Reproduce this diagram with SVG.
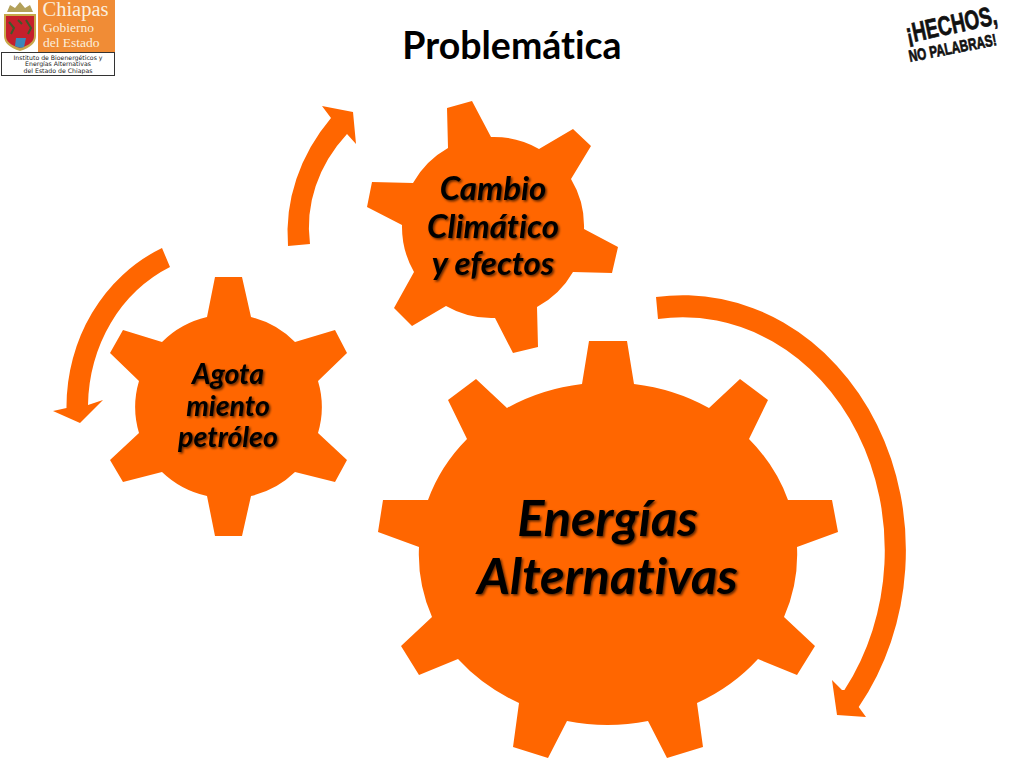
<svg xmlns="http://www.w3.org/2000/svg" width="1024" height="768" viewBox="0 0 1024 768">
<defs>
<style>
text{font-variant-ligatures:none}
.o{fill:#ff6600}
.g{font-family:Lato,"Liberation Sans",sans-serif;font-weight:700;font-style:italic;fill:#000;text-anchor:middle;filter:url(#sh)}
.s{font-family:"Liberation Serif",serif;fill:#fbeedd}
.i{font-family:"DejaVu Sans",sans-serif;font-size:6.2px;fill:#222;text-anchor:middle}
.h{font-family:"Liberation Sans",sans-serif;font-weight:700;fill:#111;stroke:#111;stroke-width:.7}
</style>
<filter id="sh" x="-10%" y="-20%" width="120%" height="150%"><feDropShadow dx="1.5" dy="1.5" stdDeviation="1.1" flood-color="#000" flood-opacity=".65"/></filter>
</defs>
<rect width="1024" height="768" fill="#fff"/>
<g id="logo-chiapas">
<rect x="38" y="0" width="77" height="52" fill="#f08c36"/>
<path d="M4 14H36V36Q36 46 20 51Q4 46 4 36Z" fill="#c8a84a"/>
<path d="M6 16H34V36Q34 44 20 48Q6 44 6 36Z" fill="#c5202c"/>
<path d="M16 38H26L24 47Q20 49 15 46Z" fill="#3c87b8"/>
<path d="M9 22L14 28 11 34M26 20L31 28 28 34M18 20L22 24" fill="none" stroke="#3d5a2a" stroke-width="2"/>
<path d="M7 12L10 5 15 8 20 2 25 8 30 5 33 12Z" fill="#b3a15a"/>
<text class="s" x="42.500" y="16" font-size="20.500">Chiapas</text>
<text class="s" x="43" y="32" font-size="13.500">Gobierno</text>
<text class="s" x="43" y="47" font-size="13.500">del Estado</text>
<rect x="1.500" y="52.500" width="113" height="23" fill="#fff" stroke="#333" stroke-width="1"/>
<text class="i" x="58" y="60">Instituto de Bioenergéticos y</text>
<text class="i" x="58" y="66">Energías Alternativas</text>
<text class="i" x="58" y="72.500">del Estado de Chiapas</text>
</g>
<g id="title"><text x="512" y="59" font-family="Lato,'Liberation Sans',sans-serif" font-weight="700" font-size="37.500" text-anchor="middle" fill="#000">Problemática</text></g>
<g id="logo-hechos">
<text class="h" transform="translate(908 43) rotate(-12) scale(.7 1)" font-size="27">¡HECHOS,</text>
<text class="h" transform="translate(910 62) rotate(-11) scale(.71 1)" font-size="16.500">NO PALABRAS!</text>
</g>
<g id="connectors">
<path class="o" d="M656 297A223 255 0 0 1 858.700 707L866 717 837 715 832 680 842 690 844.400 690A202 233 0 0 0 658 319Z"/>
<path class="o" d="M162 248A162 174 0 0 0 66.500 408L53 411 80 423 103 400 88 405A140 154 0 0 1 170 267Z"/>
<path class="o" d="M288 246A240 200 0 0 1 331 118L322 106 353 112 356 144 347 134A184 153 0 0 0 310 244Z"/>
</g>
<g id="gear-energias">
<path class="o" d="M582 384L589 341H627L634 384A190 171 0 0 1 709 408L740 379 768 400 749 439A190 171 0 0 1 788 500H832L838 532 797 547A190 171 0 0 1 784 617L815 646 797 675 758 659A190 171 0 0 1 697 703L703 747 667 758 648 721A190 171 0 0 1 567 721L548 758 513 747 519 703A190 171 0 0 1 458 659L419 675 401 646 432 617A190 171 0 0 1 419 547L378 532 383 500H428A190 171 0 0 1 467 439L448 400 476 379 507 408A190 171 0 0 1 582 384Z"/>
<text class="g" x="607.500" y="536" font-size="50.500">Energías</text>
<text class="g" x="607.500" y="594" font-size="50.500">Alternativas</text>
</g>
<g id="gear-cambio">
<path class="o" d="M448 148L447 108 472 101 491 137A91 91 0 0 1 539 149L573 129 591 146 571 179A91 91 0 0 1 584 229L618 247 612 273 573 272A91 91 0 0 1 537 307L538 347 513 353 495 318A91 91 0 0 1 446 306L412 326 394 308 414 272A91 91 0 0 1 402 225L367 207 372 182 413 183A91 91 0 0 1 448 148Z"/>
<text class="g" x="493" y="200" font-size="33">Cambio</text>
<text class="g" x="493" y="238" font-size="33">Climático</text>
<text class="g" x="493" y="275" font-size="33">y efectos</text>
</g>
<g id="gear-agota">
<path class="o" d="M207 317L215 277H242L251 317A93 92 0 0 1 295 342L335 330 347 353 318 381A93 92 0 0 1 318 433L347 460 335 482 295 472A93 92 0 0 1 251 496L242 536H215L207 496A93 92 0 0 1 162 472L123 482 110 460 139 433A93 92 0 0 1 139 381L110 353 123 330 162 342A93 92 0 0 1 207 317Z"/>
<text class="g" x="228" y="384" font-size="28.500">Agota</text>
<text class="g" x="228" y="416" font-size="28.500">miento</text>
<text class="g" x="228" y="447" font-size="28.500">petróleo</text>
</g>
</svg>
